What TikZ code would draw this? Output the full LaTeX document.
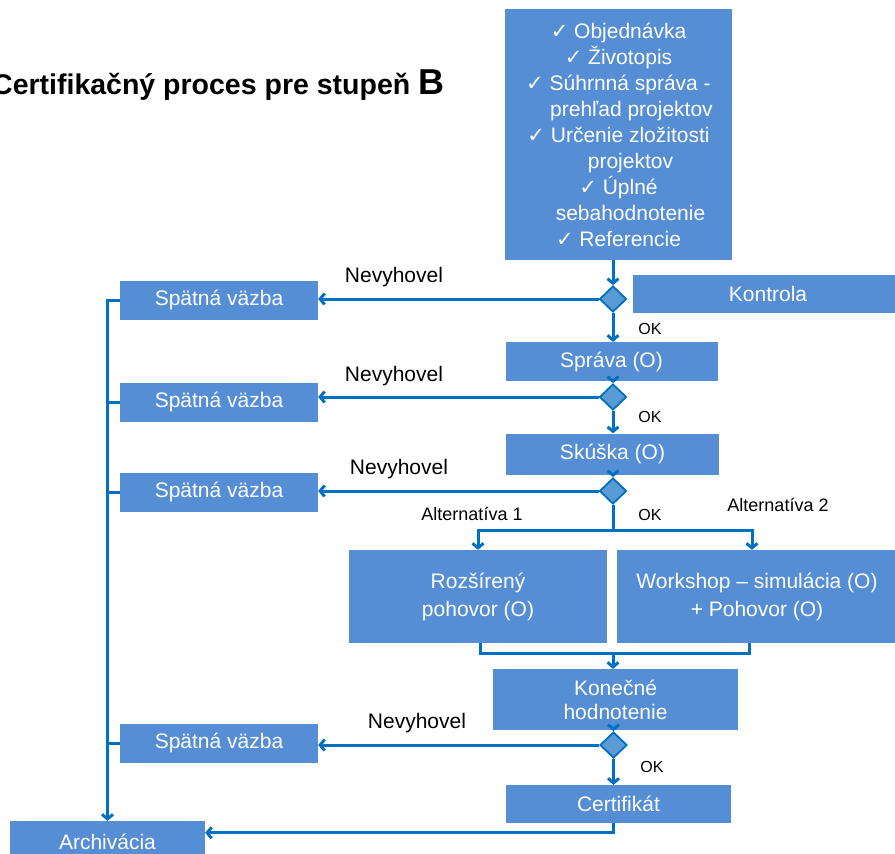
\documentclass[tikz,border=0pt]{standalone}
\usepackage{fontspec}
\setmainfont{Liberation Sans}
\newfontfamily\symfont{DejaVu Sans}
\usetikzlibrary{arrows.meta,shapes.geometric}
\definecolor{boxblue}{HTML}{558ED5}
\definecolor{lineblue}{HTML}{0070C0}
\definecolor{diafill}{HTML}{5B9BD5}
\newcommand{\ck}{{\symfont ✓}}
\begin{document}
\begin{tikzpicture}[x=1pt,y=-1pt,
  box/.style={fill=boxblue, text=white, inner sep=0pt, align=center, font=\fontsize{21}{26}\selectfont},
  dia/.style={diamond, fill=diafill, draw=lineblue, line width=1.8pt, minimum width=27pt, minimum height=26pt, inner sep=0pt},
  conn/.style={draw=lineblue, line width=3pt, -{Straight Barb[length=4.5pt,width=11pt]}},
  plain/.style={draw=lineblue, line width=3pt},
  lbl/.style={font=\fontsize{21}{24}\selectfont, inner sep=0pt},
  ok/.style={font=\fontsize{16}{18}\selectfont, inner sep=0pt},
  alt/.style={font=\fontsize{18}{20}\selectfont, inner sep=0pt}]
\useasboundingbox[fill=white] (0,0) rectangle (895,854);

\node[anchor=base west, font=\bfseries\fontsize{28.5}{30}\selectfont, inner sep=0pt] (title) at (-8,94) {Certifikačný proces pre stupeň {\fontsize{36}{36}\selectfont B}};

\node[box, minimum width=227pt, minimum height=251pt] (top) at (618.5,134.5)
  {\ck\ Objednávka\\ \ck\ Životopis\\ \ck\ Súhrnná správa -\\ \hspace*{26pt}prehľad projektov\\ \ck\ Určenie zložitosti\\ \hspace*{24pt}projektov\\ \ck\ Úplné\\ \hspace*{24pt}sebahodnotenie\\ \ck\ Referencie};

\node[box, minimum width=270pt, minimum height=38pt] (kon) at (768,294) {Kontrola};

\node[dia] (d1) at (613,299) {};
\node[box, minimum width=198pt, minimum height=39pt] (sv1) at (219,300) {Spätná väzba};
\node[box, minimum width=212pt, minimum height=39pt] (sprava) at (611.5,361.5) {Správa (O)};
\node[dia] (d2) at (613,397) {};
\node[box, minimum width=198pt, minimum height=39pt] (sv2) at (219,402) {Spätná väzba};
\node[box, minimum width=213pt, minimum height=41pt] (skuska) at (612.5,454) {Skúška (O)};
\node[dia] (d3) at (613,491) {};
\node[box, minimum width=198pt, minimum height=39pt] (sv3) at (219,492) {Spätná väzba};

\node[box, minimum width=258pt, minimum height=93pt, font=\fontsize{21}{28}\selectfont] (roz) at (478,596.5) {Rozšírený\\pohovor (O)};
\node[box, minimum width=280pt, minimum height=93pt, font=\fontsize{21}{28}\selectfont] (work) at (757,596.5) {Workshop – simulácia (O)\\+ Pohovor (O)};
\coordinate (split) at (613,530);
\coordinate (join) at (613,653);

\node[box, minimum width=245pt, minimum height=61pt, font=\fontsize{21}{24}\selectfont] (kh) at (615.5,699.5) {Konečné\\hodnotenie};
\node[dia] (d4) at (613.5,745) {};
\node[box, minimum width=198pt, minimum height=39pt] (sv4) at (219,743) {Spätná väzba};
\node[box, minimum width=225pt, minimum height=38pt] (cert) at (618.5,804) {Certifikát};
\node[box, minimum width=195pt, minimum height=42pt] (arch) at (107.5,842) {Archivácia};

% main flow
\draw[conn] (d1.north |- top.south) -- (d1.north);
\draw[conn] (d1.west) -- (d1.west -| sv1.east);
\draw[conn] (d1.south) -- (d1.south |- sprava.north);
\draw[conn] (d2.north |- sprava.south) -- (d2.north);
\draw[conn] (d2.west) -- (d2.west -| sv2.east);
\draw[conn] (d2.south) -- (d2.south |- skuska.north);
\draw[conn] (d3.north |- skuska.south) -- (d3.north);
\draw[conn] (d3.west) -- (d3.west -| sv3.east);
\draw[plain] (d3.south) -- (split);
\draw[conn] (split) -| (roz.north);
\draw[conn] (split) -| ([xshift=-5pt]work.north);
\draw[plain] ([xshift=2pt]roz.south) |- (join) -| ([xshift=-8pt]work.south);
\draw[conn] (join) -- (join |- kh.north);
\draw[conn] (d4.north |- kh.south) -- (d4.north);
\draw[conn] (d4.west) -- (d4.west -| sv4.east);
\draw[conn] (d4.south) -- (d4.south |- cert.north);

% feedback trunk
\draw[conn] (sv1.west) -| (arch.north);
\draw[plain] (sv2.west) -- (sv2.west -| arch.north);
\draw[plain] (sv3.west) -- (sv3.west -| arch.north);
\draw[plain] (sv4.west) -- (sv4.west -| arch.north);
\draw[conn] (cert.south -| d4.south) |- ([yshift=-12pt]arch.north east);

% labels
\node[lbl] (nv1) at (394,277) {Nevyhovel};
\node[lbl] (nv2) at (394,376) {Nevyhovel};
\node[lbl] (nv3) at (399,469) {Nevyhovel};
\node[lbl] (nv4) at (417,723) {Nevyhovel};
\node[ok] (ok1) at (650,329) {OK};
\node[ok] (ok2) at (650,417) {OK};
\node[ok] (ok3) at (650,515) {OK};
\node[ok] (ok4) at (652,767) {OK};
\node[alt] (alt1) at (472,514) {Alternatíva 1};
\node[alt] (alt2) at (778,505) {Alternatíva 2};
\end{tikzpicture}
\end{document}
